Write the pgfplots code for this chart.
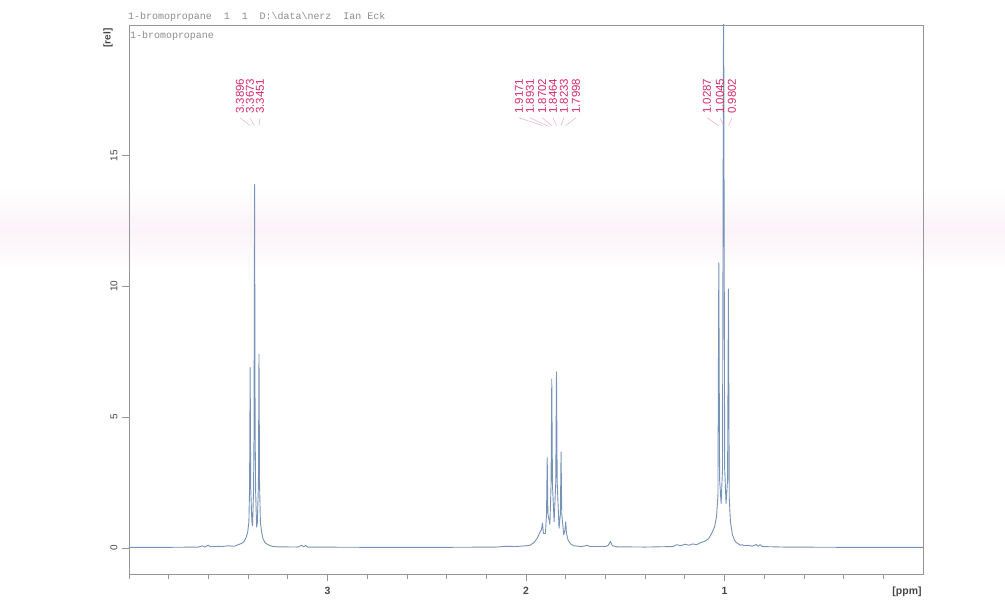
\documentclass[border=0pt]{standalone}
\usepackage{pgfplots}
\pgfplotsset{compat=1.18}
\usepackage{fontspec}
\setmainfont{Liberation Sans}
\newfontfamily\monof{Liberation Mono}
\definecolor{spec}{RGB}{118,146,182}
\definecolor{framec}{RGB}{150,150,150}
\definecolor{lbl}{RGB}{212,42,100}
\definecolor{hdr}{RGB}{140,140,140}
\definecolor{band}{RGB}{251,243,249}
\definecolor{tlab}{RGB}{70,70,70}
\begin{document}
\begin{tikzpicture}
\path[use as bounding box] (0,0) rectangle (1005bp,600bp);
\shade[top color=white, bottom color=white, middle color=band] (0,328bp) rectangle (1005bp,412bp);
\begin{axis}[at={(129bp,26bp)}, anchor=south west, width=794bp, height=549bp, scale only axis,
  xmin=0, xmax=4, ymin=-1, ymax=20, x dir=reverse,
  axis line style={framec, line width=0.8bp},
  xtick={1,2,3}, minor xtick={0.2,0.4,0.6,0.8,1.2,1.4,1.6,1.8,2.2,2.4,2.6,2.8,3.2,3.4,3.6,3.8,4},
  ytick={0,5,10,15},
  xtick pos=bottom, ytick pos=left, tick align=outside,
  major tick length=7bp, minor tick length=4.5bp,
  tick style={framec, line width=0.7bp},
  /pgf/number format/assume math mode=true,
  xticklabel style={font=\bfseries\fontsize{10.5}{12}\selectfont, text=tlab, anchor=center, yshift=-10bp},
  yticklabel style={xshift=-8bp, rotate=90, anchor=center, font=\fontsize{10}{12}\selectfont, text=tlab},
]
\addplot[spec, line width=0.9bp, line join=round] coordinates {
(4.00,0.02) (3.80,0.02) (3.65,0.03) (3.63,0.08) (3.62,0.03) (3.60,0.1) (3.59,0.04) (3.56,0.06)
(3.53,0.05) (3.50,0.08) (3.47,0.06) (3.45,0.12) (3.43,0.18) (3.42,0.25) (3.41,0.4) (3.402,0.6)
(3.396,1.0) (3.3925,2.3) (3.3896,6.9) (3.3868,2.3) (3.381,1.0) (3.3775,0.85) (3.3725,2.2)
(3.3700,4.5) (3.3673,13.9) (3.3646,4.5) (3.3621,2.2) (3.357,0.8) (3.3535,0.95) (3.348,2.4)
(3.3451,7.4) (3.3422,2.4) (3.338,1.0) (3.332,0.6) (3.325,0.35) (3.315,0.2) (3.30,0.12)
(3.28,0.06) (3.25,0.04) (3.15,0.03) (3.13,0.1) (3.12,0.04) (3.11,0.09) (3.10,0.03)
(2.80,0.02) (2.40,0.02) (2.15,0.03) (2.10,0.06) (2.05,0.05) (2.00,0.08) (1.98,0.1) (1.96,0.2)
(1.945,0.35) (1.932,0.55) (1.922,0.7) (1.9171,0.95) (1.912,0.55) (1.902,0.55) (1.8965,1.3)
(1.8931,3.45) (1.8897,1.3) (1.8795,0.9) (1.8738,2.4) (1.8702,6.46) (1.8666,2.4) (1.8583,1.0)
(1.8500,2.5) (1.8464,6.73) (1.8428,2.5) (1.8335,0.75) (1.8267,1.3) (1.8233,3.67) (1.8199,1.3)
(1.810,0.5) (1.8033,0.7) (1.7998,1.0) (1.796,0.55) (1.788,0.3) (1.775,0.15) (1.76,0.08)
(1.72,0.05) (1.70,0.08) (1.69,0.1) (1.68,0.05) (1.60,0.05) (1.585,0.1) (1.575,0.25)
(1.565,0.08) (1.54,0.04) (1.40,0.03) (1.26,0.05) (1.24,0.12) (1.22,0.08) (1.20,0.14)
(1.18,0.1) (1.16,0.15) (1.14,0.12) (1.12,0.2) (1.10,0.25) (1.08,0.35) (1.065,0.55) (1.05,0.8)
(1.040,1.2) (1.033,2.0) (1.0287,10.9) (1.0245,2.6) (1.017,1.7) (1.010,3.0) (1.0045,21.8)
(0.9990,3.0) (0.992,1.7) (0.9845,2.6) (0.9802,9.9) (0.976,1.9) (0.970,1.0) (0.96,0.5)
(0.95,0.3) (0.94,0.2) (0.93,0.15) (0.92,0.1) (0.91,0.12) (0.90,0.08) (0.88,0.1) (0.86,0.06)
(0.84,0.13) (0.83,0.06) (0.82,0.12) (0.81,0.05) (0.70,0.03) (0.40,0.02) (0.00,0.02)
};
% peak labels
\foreach \lx/\px/\t in {3.441/3.3896/3.3896, 3.391/3.3673/3.3673, 3.340/3.3451/3.3451,
  2.035/1.9171/1.9171, 1.980/1.8931/1.8931, 1.919/1.8702/1.8702, 1.864/1.8464/1.8464, 1.809/1.8233/1.8233, 1.748/1.7998/1.7998,
  1.088/1.0287/1.0287, 1.023/1.0045/1.0045, 0.962/0.9802/0.9802}{
  \edef\temp{\noexpand\node[rotate=90, anchor=west, text=lbl, inner sep=0pt, font=\noexpand\fontsize{11.5}{13}\noexpand\selectfont] at (axis cs:\lx,16.6) {\t};
  \noexpand\draw[lbl!45, line width=0.4bp] (axis cs:\lx,16.45) -- (axis cs:\px,16.15);}
  \temp
}
\end{axis}
\node[anchor=west, text=hdr, inner sep=0pt, font=\monof\fontsize{10}{12}\selectfont] at (128bp,583bp) {1-bromopropane\ \ 1\ \ 1\ \ D:\textbackslash data\textbackslash nerz\ \ Ian Eck};
\node[anchor=west, text=hdr, inner sep=0pt, font=\monof\fontsize{10}{12}\selectfont] at (130bp,564bp) {1-bromopropane};
\node[rotate=90, text=tlab, font=\bfseries\fontsize{10}{12}\selectfont] at (108bp,562bp) {[rel]};
\node[text=tlab, font=\bfseries\fontsize{10.5}{12}\selectfont] at (907bp,8bp) {[ppm]};
\end{tikzpicture}
\end{document}
